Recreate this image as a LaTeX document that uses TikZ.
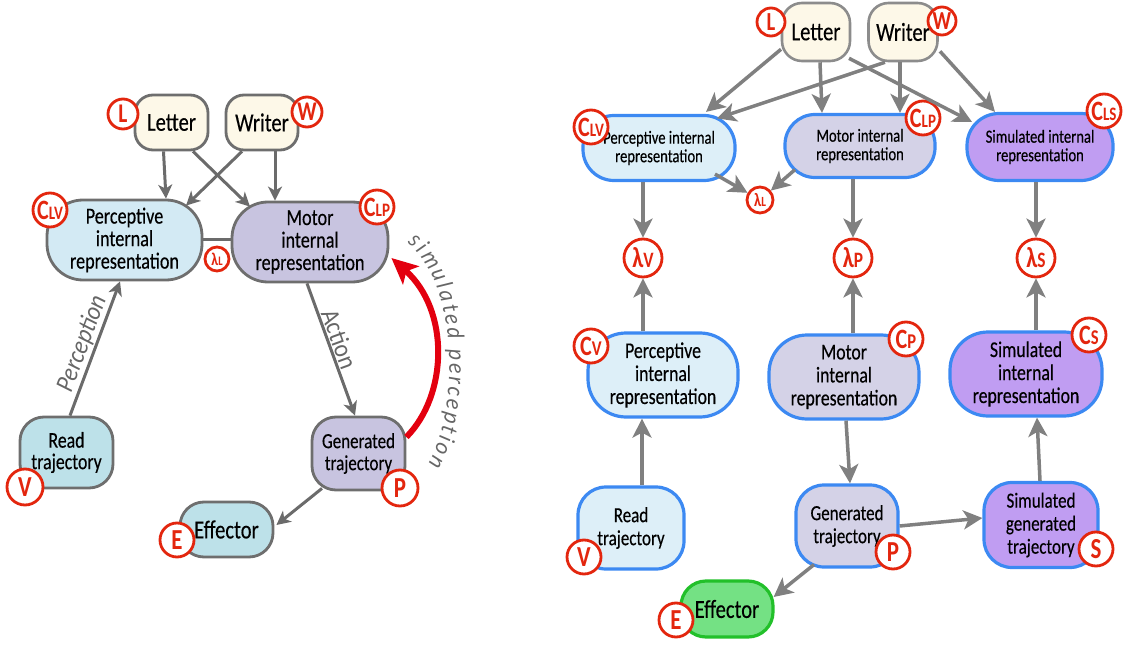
\documentclass[tikz,border=0pt]{standalone}
\usepackage{fontspec}
\setmainfont{Carlito}[FakeStretch=0.79, UprightFeatures={FakeBold=0.3}]
\newfontfamily\lblfont{Carlito}[FakeStretch=0.9]
\usetikzlibrary{arrows.meta,decorations.text}
\definecolor{cream}{HTML}{FDF8E8}
\definecolor{lperc}{HTML}{D3EAF4}
\definecolor{lteal}{HTML}{BDE1E9}
\definecolor{llav}{HTML}{C8C4E0}
\definecolor{lborder}{HTML}{6E6E6E}
\definecolor{larrc}{HTML}{6B6B6B}
\definecolor{rarrc}{HTML}{808080}
\definecolor{rblue}{HTML}{3C89F2}
\definecolor{rperc}{HTML}{DDEFF8}
\definecolor{rmot}{HTML}{D4D2E7}
\definecolor{rsim}{HTML}{C09DF2}
\definecolor{reff}{HTML}{74E184}
\definecolor{reffb}{HTML}{22C02A}
\definecolor{labred}{HTML}{E3260E}
\definecolor{arrred}{HTML}{E3000F}
\definecolor{txtgray}{HTML}{666666}
\newcommand\fsz[2]{\fontsize{#1}{#2}\selectfont}
\newcommand\cbig[2]{{\fontsize{#1}{#1}\selectfont #2}}
\begin{document}
\begin{tikzpicture}[x=1pt,y=-1pt,
  lbox/.style={rectangle, draw=lborder, line width=2.8pt, align=center, inner sep=0pt, text=black},
  rbox/.style={rectangle, draw=rblue, line width=3.2pt, align=center, inner sep=0pt, text=black},
  lab/.style={circle, draw=labred, line width=2.8pt, fill=white, inner sep=0pt, text=labred, font=\bfseries, minimum size=#1},
  larr/.style={draw=larrc, line width=3pt, -{Stealth[length=14pt,width=14pt,inset=4pt]}},
  rarr/.style={draw=rarrc, line width=3.5pt, -{Stealth[length=19pt,width=19pt,inset=5pt]}},
  elab/.style={sloped, text=txtgray, inner sep=1pt, font=\lblfont\fsz{26}{26}}
]
\useasboundingbox (0,0) rectangle (1129,652);

% ---------------- left diagram: boxes ----------------
\node[lbox, fill=cream, minimum width=73pt, minimum height=55pt, rounded corners=18pt, font=\fsz{26}{26}] (lLetter) at (171.5,122.5) {Letter};
\node[lbox, fill=cream, minimum width=72pt, minimum height=55pt, rounded corners=18pt, font=\fsz{26}{26}] (lWriter) at (262,122.5) {Writer};
\node[lbox, fill=lperc, minimum width=155pt, minimum height=80pt, rounded corners=36pt, font=\fsz{23}{22.5}] (lPerc) at (124.5,240) {Perceptive\\internal\\representation};
\node[lbox, fill=llav, minimum width=156pt, minimum height=80pt, rounded corners=36pt, font=\fsz{23}{22.5}] (lMotor) at (310,242) {Motor\\internal\\representation};
\node[lbox, fill=lteal, minimum width=93pt, minimum height=71pt, rounded corners=24pt, font=\fsz{22.5}{21.5}] (lRead) at (66.5,452.5) {Read\\trajectory};
\node[lbox, fill=llav, minimum width=93pt, minimum height=73pt, rounded corners=24pt, font=\fsz{21.5}{22}] (lGen) at (358.5,453.5) {Generated\\trajectory};
\node[lbox, fill=lteal, minimum width=93pt, minimum height=55pt, rounded corners=24pt, font=\fsz{26}{26}] (lEff) at (226.5,529.5) {Effector};

% ---------------- left diagram: circle labels ----------------
\node[lab=30pt] (lL) at (123,114) {\cbig{27}{L}};
\node[lab=30pt] (lW) at (307,112) {\cbig{27}{W}};
\node[lab=34pt] (lClv) at (50,210) {\cbig{28}{C}\cbig{19}{LV}};
\node[lab=34pt] (lClp) at (377,207) {\cbig{28}{C}\cbig{19}{LP}};
\node[lab=24pt] (lLamL) at (217,259) {\cbig{18}{λ}\cbig{13}{L}};
\node[lab=36pt] (lV) at (25,487) {\cbig{29}{V}};
\node[lab=36pt] (lP) at (400,488) {\cbig{29}{P}};
\node[lab=34pt] (lE) at (177,540) {\cbig{29}{E}};

% ---------------- left diagram: connectors ----------------
\draw[larr] ([xshift=-8pt]lLetter.south) -- ([xshift=41.5pt]lPerc.north);
\draw[larr] ([xshift=21.5pt]lLetter.south) -- ([xshift=-60pt,yshift=-6pt]lMotor.north);
\draw[larr] ([xshift=-20pt]lWriter.south) -- ([xshift=61.5pt,yshift=-7pt]lPerc.north);
\draw[larr] ([xshift=13pt]lWriter.south) -- ([xshift=-35pt]lMotor.north);
\draw[draw=larrc, line width=3pt] (lPerc.east) -- (lPerc.east -| lMotor.west);
\draw[larr] ([xshift=3.5pt]lRead.north) -- node[elab, above, pos=0.5, font=\lblfont\fsz{26}{26}\itshape] {Perception} ([xshift=-4.5pt]lPerc.south);
\draw[larr] ([xshift=-3pt]lMotor.south) -- node[elab, above, pos=0.45] {Action} ([xshift=-3.5pt]lGen.north);
\draw[larr] ([xshift=-36.5pt,yshift=3pt]lGen.south) -- ([xshift=2pt,yshift=4.5pt]lEff.east);
\draw[draw=arrred, line width=6pt, -{Stealth[length=26pt,width=24pt,inset=6pt]}] ([yshift=16.5pt]lGen.east) .. controls (448,395) and (450,310) .. ([xshift=2pt,yshift=-16pt]lMotor.east);
\path[decorate, decoration={text along path, text align=fit to path,
  text={|\lblfont\fsz{24}{24}\itshape\color{txtgray}|simulated perception}}]
  (407,243) .. controls (458,282) and (460,408) .. (428,464);

% ---------------- right diagram: boxes ----------------
\node[lbox, line width=2.6pt, draw=gray!90, fill=cream, minimum width=68pt, minimum height=58pt, rounded corners=20pt, font=\fsz{26}{26}] (rLetter) at (816,32) {Letter};
\node[lbox, line width=2.6pt, draw=gray!90, fill=cream, minimum width=69pt, minimum height=58pt, rounded corners=20pt, font=\fsz{26}{26}] (rWriter) at (903,32) {Writer};
\node[rbox, fill=rperc, minimum width=152pt, minimum height=65pt, rounded corners=31pt, font=\fsz{18.5}{18.5}] (rPercT) at (659,148) {Perceptive internal\\representation};
\node[rbox, fill=rmot, minimum width=150pt, minimum height=63pt, rounded corners=30pt, font=\fsz{18.5}{18.5}] (rMotorT) at (860,146) {Motor internal\\representation};
\node[rbox, fill=rsim, minimum width=146pt, minimum height=67pt, rounded corners=32pt, font=\fsz{18.5}{18.5}] (rSimT) at (1040,147) {Simulated internal\\representation};
\node[rbox, fill=rperc, minimum width=150pt, minimum height=84pt, rounded corners=38pt, font=\fsz{22.5}{23}] (rPercM) at (663,375) {Perceptive\\internal\\representation};
\node[rbox, fill=rmot, minimum width=150pt, minimum height=84pt, rounded corners=38pt, font=\fsz{22.5}{23}] (rMotorM) at (844,377) {Motor\\internal\\representation};
\node[rbox, fill=rsim, minimum width=152pt, minimum height=84pt, rounded corners=38pt, font=\fsz{22.5}{23}] (rSimM) at (1026,374) {Simulated\\internal\\representation};
\node[rbox, fill=rperc, minimum width=106pt, minimum height=82pt, rounded corners=28pt, font=\fsz{21.5}{23}] (rRead) at (631,528) {Read\\trajectory};
\node[rbox, fill=rmot, minimum width=102pt, minimum height=82pt, rounded corners=28pt, font=\fsz{21.5}{23}] (rGen) at (847,526) {Generated\\trajectory};
\node[rbox, fill=rsim, minimum width=114pt, minimum height=85pt, rounded corners=28pt, font=\fsz{21.5}{23}] (rSimG) at (1041,525) {Simulated\\generated\\trajectory};
\node[rbox, draw=reffb, fill=reff, minimum width=92pt, minimum height=56pt, rounded corners=25pt, font=\fsz{26}{26}] (rEff) at (727,609) {Effector};

% ---------------- right diagram: circle labels ----------------
\node[lab=28pt] (rL) at (771,22) {\cbig{26}{L}};
\node[lab=28pt] (rW) at (942,21) {\cbig{26}{W}};
\node[lab=34pt] (rClv) at (591,127) {\cbig{28}{C}\cbig{19}{LV}};
\node[lab=34pt] (rClp) at (923,118) {\cbig{28}{C}\cbig{19}{LP}};
\node[lab=34pt] (rCls) at (1104,111) {\cbig{28}{C}\cbig{19}{LS}};
\node[lab=26pt] (rLamL) at (760,200) {\cbig{19}{λ}\cbig{14}{L}};
\node[lab=38pt] (rLamV) at (643,258) {\cbig{29}{λ}\cbig{22}{V}};
\node[lab=38pt] (rLamP) at (853,258) {\cbig{29}{λ}\cbig{22}{P}};
\node[lab=38pt] (rLamS) at (1036,258) {\cbig{29}{λ}\cbig{22}{S}};
\node[lab=34pt] (rCv) at (591,346) {\cbig{28}{C}\cbig{21}{V}};
\node[lab=34pt] (rCp) at (906,339) {\cbig{28}{C}\cbig{21}{P}};
\node[lab=34pt] (rCs) at (1089,335) {\cbig{28}{C}\cbig{21}{S}};
\node[lab=34pt] (rV) at (584,557) {\cbig{29}{V}};
\node[lab=34pt] (rP) at (893,552) {\cbig{29}{P}};
\node[lab=34pt] (rS) at (1096,549) {\cbig{29}{S}};
\node[lab=34pt] (rE) at (676,620) {\cbig{29}{E}};

% ---------------- right diagram: connectors ----------------
\draw[rarr] ([xshift=-35pt,yshift=13pt]rLetter.south) -- ([xshift=47pt,yshift=2pt]rPercT.north);
\draw[rarr] ([xshift=4pt]rLetter.south) -- ([xshift=-38pt]rMotorT.north);
\draw[rarr] ([xshift=33pt,yshift=4pt]rLetter.south) -- ([xshift=-68pt,yshift=-10pt]rSimT.north);
\draw[rarr] ([xshift=-18pt]rWriter.south) -- ([xshift=58pt,yshift=-4.5pt]rPercT.north);
\draw[rarr] ([xshift=-3pt]rWriter.south) -- ([xshift=40pt]rMotorT.north);
\draw[rarr] ([xshift=37pt,yshift=11pt]rWriter.south) -- ([xshift=-45pt]rSimT.north);
\draw[rarr] ([xshift=56pt,yshift=8pt]rPercT.south) -- (rLamL);
\draw[rarr] ([xshift=-65pt,yshift=9.5pt]rMotorT.south) -- (rLamL);
\draw[rarr] ([xshift=-16pt]rPercT.south) -- (rLamV.north);
\draw[rarr] ([xshift=-7pt]rMotorT.south) -- (rLamP.north);
\draw[rarr] ([xshift=-4pt]rSimT.south) -- (rLamS.north);
\draw[rarr] ([xshift=-20pt]rPercM.north) -- (rLamV.south);
\draw[rarr] ([xshift=9pt]rMotorM.north) -- (rLamP.south);
\draw[rarr] ([xshift=10pt]rSimM.north) -- (rLamS.south);
\draw[rarr] ([xshift=11pt]rRead.north) -- ([xshift=-21pt]rPercM.south);
\draw[rarr] ([xshift=2pt]rMotorM.south) -- ([xshift=3pt]rGen.north);
\draw[rarr] (rGen.east) -- ([yshift=7pt]rSimG.west);
\draw[rarr] ([xshift=-1pt]rSimG.north) -- ([xshift=11pt]rSimM.south);
\draw[rarr] ([xshift=-33pt,yshift=4pt]rGen.south) -- ([xshift=-1pt,yshift=12pt]rEff.east);
\end{tikzpicture}
\end{document}
